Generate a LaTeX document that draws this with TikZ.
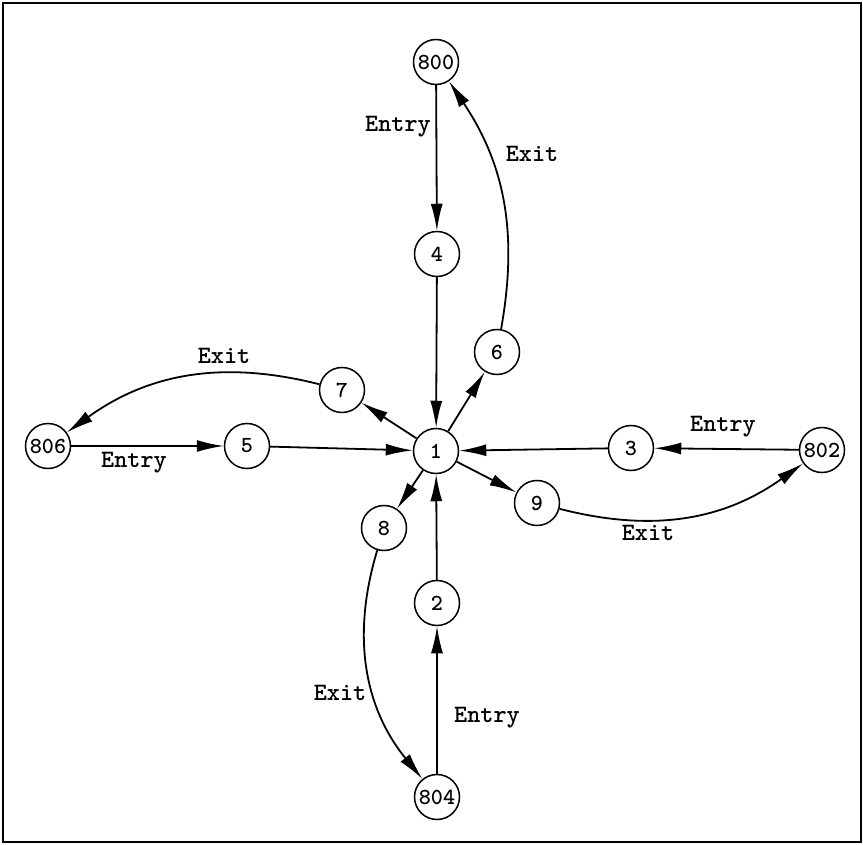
\documentclass[tikz,border=0pt]{standalone}
\usepackage{fontspec}
\newfontfamily\cour{lmmonolt10-bold}[Extension=.otf]
\usetikzlibrary{arrows.meta}
\begin{document}
\begin{tikzpicture}[x=1pt,y=-1pt,
  st/.style={circle,draw,line width=1.5pt,minimum size=45pt,inner sep=0pt,font=\cour\fontsize{23}{23}\selectfont},
  lbl/.style={font=\cour\fontsize{25}{25}\selectfont,inner sep=0pt},
  con/.style={line width=1.8pt,-{Latex[length=27pt,width=12pt]}}]
\useasboundingbox (0,0) rectangle (863,845);
\draw[line width=1.6pt] (3,3) rectangle (861,842);
\node[st] (n800) at (436,62) {800};
\node[st] (n4) at (437,254) {4};
\node[st] (n1) at (436,451) {1};
\node[st] (n6) at (497,352) {6};
\node[st] (n7) at (342,390) {7};
\node[st] (n806) at (48,446) {806};
\node[st] (n5) at (247,446) {5};
\node[st] (n3) at (631,448) {3};
\node[st] (n802) at (822,450) {802};
\node[st] (n9) at (537,503) {9};
\node[st] (n8) at (384,528) {8};
\node[st] (n2) at (437,603) {2};
\node[st] (n804) at (437,797) {804};
\draw[con] (n800) -- (n4);
\draw[con] (n4) -- (n1);
\draw[con] (n1) -- (n6);
\draw[con] (n6) to[bend right=22] (n800);
\draw[con] (n1) -- (n7);
\draw[con] (n7) to[bend right=25] (n806);
\draw[con] (n806) -- (n5);
\draw[con] (n5) -- (n1);
\draw[con] (n802) -- (n3);
\draw[con] (n3) -- (n1);
\draw[con] (n1) -- (n9);
\draw[con] (n9) to[bend right=25] (n802);
\draw[con] (n1) -- (n8);
\draw[con] (n8) to[bend right=28] (n804);
\draw[con] (n804) -- (n2);
\draw[con] (n2) -- (n1);
\node[lbl] (l1) at (398,127) {Entry};
\node[lbl] (l2) at (532,154) {Exit};
\node[lbl] (l3) at (224,356) {Exit};
\node[lbl] (l4) at (134,463) {Entry};
\node[lbl] (l5) at (723,427) {Entry};
\node[lbl] (l6) at (648,533) {Exit};
\node[lbl] (l7) at (340,693) {Exit};
\node[lbl] (l8) at (487,718) {Entry};
\end{tikzpicture}
\end{document}
